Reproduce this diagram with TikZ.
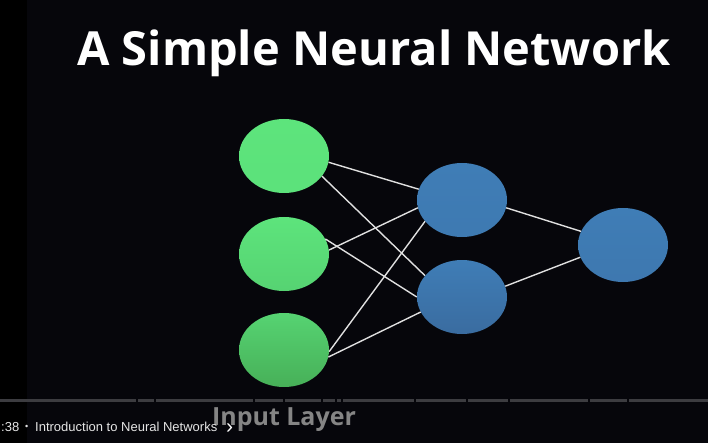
\documentclass[tikz,border=0pt]{standalone}
\usepackage{fontspec}
\setmainfont{Open Sans}
\newfontfamily\barfont{Liberation Sans}
\usetikzlibrary{shapes.geometric}
\definecolor{bgdark}{HTML}{06060B}
\definecolor{greentop}{HTML}{5DE47C}
\definecolor{greenmid}{HTML}{56D372}
\definecolor{greenlow}{HTML}{47B058}
\definecolor{bluetop}{HTML}{3F7DB6}
\definecolor{bluelow}{HTML}{3A6CA0}
\definecolor{barline}{HTML}{3C3C40}

\begin{document}
\begin{tikzpicture}[
    x=1pt, y=-1pt,
    neuron/.style={ellipse, minimum width=90pt, minimum height=74pt, inner sep=0pt},
    inputn/.style={neuron, top color=greentop, bottom color=greenmid},
    hiddenn/.style={neuron, top color=bluetop, bottom color=bluelow},
    link/.style={draw=white!88!black, line width=1.4pt},
    title/.style={text=white, font=\fontsize{47}{56}\selectfont\bfseries, anchor=base},
    caption/.style={text=white!52!black, font=\fontsize{25}{30}\selectfont\bfseries, anchor=base},
    ytbar/.style={text=white!90!black, font=\barfont\fontsize{13}{15}\selectfont, anchor=base west, inner sep=0pt}
]
    % Background
    \fill[bgdark] (0,0) rectangle (708,443);
    \fill[black] (0,0) rectangle (27,443);
    \useasboundingbox (0,0) rectangle (708,443);

    % Title
    \node[title] (head) at (374,66) {A Simple Neural Network};

    % Nodes
    \node[inputn, top color=greentop, bottom color=greentop!85!greenmid] (in1) at (284,156) {};
    \node[inputn] (in2) at (284,254) {};
    \node[inputn, top color=greenmid, bottom color=greenlow] (in3) at (284,350) {};
    \node[hiddenn, top color=bluetop, bottom color=bluetop!80!bluelow] (hid1) at (462,200) {};
    \node[hiddenn] (hid2) at (462,297) {};
    \node[hiddenn, top color=bluetop, bottom color=bluetop!70!bluelow] (out) at (623,245) {};

    % Connections
    \draw[link] (in1.-8) -- (hid1.166);
    \draw[link] (in1.-28) -- (hid2.150);
    \draw[link] (in2.5) -- (hid1.190);
    \draw[link] (in2.20) -- (hid2.180);
    \draw[link] (in3.-2) -- (hid1.210);
    \draw[link] (in3.-9) -- (hid2.200);
    \draw[link] (hid1.-10) -- (out.162);
    \draw[link] (hid2.14) -- (out.196);

    % Player bar
    \node[caption] (layer) at (284,425) {Input Layer};
    \foreach \a/\b in {0/136,138/154,156/253,255/283,285/321,323/335,337/341,343/414,416/466,468/508,510/588,590/627,629/708}
        \fill[barline] (\a,398.5) rectangle (\b,401.5);
    \node[ytbar] (time) at (1,431) {:38};
    \node[ytbar, font=\barfont\fontsize{9}{10}\selectfont] (dot) at (25,429.5) {•};
    \node[ytbar] (chapter) at (35,431) {Introduction to Neural Networks};
    \node[ytbar, text=white, font=\barfont\fontsize{21}{21}\selectfont] (more) at (226,433) {›};
\end{tikzpicture}
\end{document}
